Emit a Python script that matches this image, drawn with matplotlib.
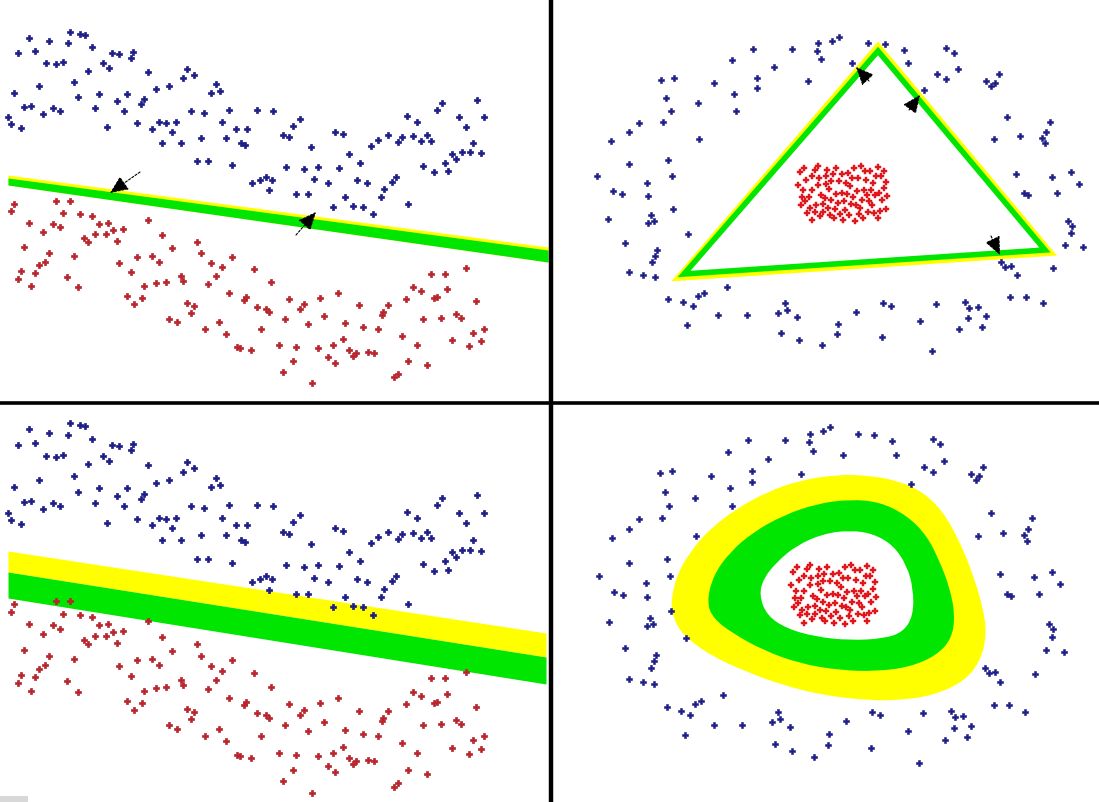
import numpy as np
import matplotlib
matplotlib.use("Agg")
import matplotlib.pyplot as plt
from matplotlib.path import Path
from matplotlib.patches import PathPatch, Polygon, Rectangle
from matplotlib.lines import Line2D

# ---------------- data: linearly separable set (left column) ----------------
LEFT_BLUE = [
    (29, 38), (49, 41), (70, 32), (80, 34), (85, 35), (68, 43), (35, 51), (18, 53), (92, 47),
    (112, 53), (119, 54), (133, 52), (131, 58), (46, 63), (56, 64), (63, 62), (103, 63), (109, 68),
    (88, 71), (148, 72), (187, 69), (183, 78), (194, 75), (74, 82), (39, 86), (156, 89), (169, 86),
    (216, 84), (220, 91), (211, 93), (14, 93), (78, 97), (99, 94), (127, 94), (144, 99), (141, 104),
    (117, 101), (24, 107), (31, 106), (53, 108), (60, 111), (43, 114), (95, 108), (124, 111),
    (191, 111), (204, 113), (229, 110), (257, 110), (273, 111), (8, 117), (11, 124), (21, 128),
    (107, 127), (137, 123), (152, 129), (159, 122), (166, 123), (176, 122), (172, 132), (222, 122),
    (236, 129), (247, 129), (162, 143), (181, 143), (201, 138), (226, 138), (241, 143), (245, 145),
    (197, 161), (208, 161), (232, 165), (252, 183), (260, 180), (266, 177), (272, 180), (269, 190),
    (283, 135), (289, 137), (293, 126), (300, 119), (311, 147), (335, 132), (343, 134), (349, 154),
    (286, 167), (304, 169), (318, 167), (314, 179), (328, 183), (339, 168), (360, 163), (357, 180),
    (367, 183), (296, 194), (308, 194), (345, 197), (371, 146), (378, 140), (388, 135), (398, 142),
    (402, 137), (407, 116), (417, 122), (413, 136), (421, 141), (427, 135), (431, 141), (437, 110),
    (442, 103), (459, 117), (466, 127), (477, 100), (484, 117), (473, 143), (462, 152), (470, 152),
    (481, 153), (452, 154), (456, 159), (445, 163), (448, 171), (423, 166), (434, 172), (384, 189),
    (392, 182), (396, 177), (381, 197), (333, 207), (353, 206), (363, 207), (373, 214), (408, 204),
]
LEFT_RED = [
    (14, 204), (11, 211), (56, 201), (70, 201), (63, 213), (80, 214), (92, 216), (29, 223), (53, 224),
    (60, 227), (99, 224), (108, 223), (113, 230), (123, 229), (148, 220), (43, 232), (95, 234),
    (106, 234), (84, 238), (88, 242), (117, 241), (162, 235), (24, 247), (172, 248), (197, 242),
    (49, 253), (74, 256), (201, 253), (137, 257), (152, 256), (159, 262), (119, 263), (45, 262),
    (39, 265), (211, 263), (222, 267), (232, 257), (21, 271), (35, 273), (131, 272), (254, 269),
    (18, 279), (31, 286), (67, 277), (78, 287), (181, 276), (183, 281), (216, 276), (208, 284),
    (144, 286), (156, 283), (166, 282), (271, 282), (127, 296), (142, 298), (134, 304), (229, 293),
    (246, 297), (244, 300), (187, 303), (194, 306), (191, 313), (257, 307), (266, 309), (269, 312),
    (169, 319), (177, 322), (219, 322), (205, 329), (226, 334), (261, 329), (237, 347), (240, 348),
    (251, 350), (431, 274), (445, 274), (466, 268), (413, 287), (421, 291), (447, 289), (434, 298),
    (437, 297), (289, 299), (320, 298), (338, 293), (406, 299), (476, 301), (300, 309), (304, 304),
    (359, 305), (388, 305), (383, 312), (382, 315), (285, 319), (324, 316), (423, 319), (441, 318),
    (456, 314), (461, 318), (308, 324), (345, 323), (363, 327), (378, 329), (484, 329), (473, 333),
    (402, 336), (279, 345), (296, 347), (318, 348), (333, 345), (343, 339), (349, 350), (356, 353),
    (353, 356), (368, 352), (374, 353), (417, 345), (452, 340), (469, 346), (481, 341), (328, 357),
    (293, 361), (335, 363), (408, 361), (427, 365), (283, 372), (394, 377), (398, 374), (312, 383),
]
# hard-margin separator (thin band) and its support-vector arrows
LINE_X = [8, 548]
LINE_YELLOW_TOP = [175, 247]
LINE_GREEN_TOP = [178, 250]
LINE_GREEN_BOT = [185, 262]
LINE_ARROWS = [((140, 172), (110, 193)), ((296, 235), (316, 212))]

# soft-margin band (lower left), in panel pixel units
SOFT_X = [8, 546]
SOFT_YELLOW_TOP = [149, 231]
SOFT_MID = [170, 255]
SOFT_GREEN_BOT = [196, 282]

# ---------------- data: ring-shaped set (right column) ----------------
RIGHT_BLUE = [
    (661, 80), (674, 78), (666, 98), (671, 111), (663, 122), (639, 123), (629, 132), (611, 141),
    (698, 103), (699, 139), (714, 83), (732, 60), (734, 94), (736, 111), (753, 49), (757, 78),
    (757, 88), (774, 67), (792, 49), (808, 81), (818, 43), (817, 51), (821, 59), (629, 164),
    (668, 160), (672, 176), (597, 176), (647, 183), (613, 191), (622, 194), (648, 196),
    (832, 41), (839, 37), (868, 43), (885, 44), (852, 63), (904, 50), (908, 63), (924, 90),
    (946, 48), (954, 53), (958, 69), (937, 74), (946, 79), (986, 81), (991, 86), (995, 83),
    (999, 74), (1007, 117), (994, 139), (1020, 136), (1050, 122), (1046, 132), (1042, 138),
    (1045, 143), (1016, 174), (1052, 177), (1071, 172), (1079, 184), (1057, 193), (1024, 193),
    (1028, 195), (608, 219), (651, 215), (654, 221), (648, 223), (673, 209), (688, 234),
    (625, 243), (657, 250), (655, 256), (652, 262), (629, 272), (643, 275), (655, 277),
    (727, 287), (704, 293), (698, 296), (668, 299), (683, 302), (693, 306), (718, 315),
    (747, 315), (687, 325), (785, 303), (787, 310), (778, 313), (797, 317), (781, 333),
    (799, 340), (822, 345), (1068, 221), (1072, 226), (1071, 233), (1065, 245), (1083, 247),
    (1053, 268), (1001, 262), (1005, 267), (1011, 266), (1017, 275), (1010, 297), (1026, 297),
    (1043, 303), (883, 303), (891, 306), (936, 304), (965, 302), (969, 308), (978, 307),
    (986, 316), (856, 312), (838, 324), (837, 334), (882, 337), (920, 321), (968, 318),
    (959, 329), (982, 327), (932, 351),
]
RIGHT_RED = [
    (800, 172), (806, 180), (803, 190), (809, 197), (801, 205), (807, 213), (812, 220), (815, 170),
    (818, 185), (821, 195), (816, 205), (823, 212), (826, 176), (829, 189), (831, 200), (828, 208),
    (834, 218), (836, 168), (839, 181), (842, 193), (838, 203), (845, 210), (848, 173), (850, 186),
    (853, 197), (849, 215), (856, 205), (858, 178), (861, 166), (864, 190), (862, 200), (868, 212),
    (870, 171), (873, 183), (875, 195), (872, 205), (878, 218), (881, 176), (884, 188), (882, 200),
    (886, 209), (812, 176), (825, 198), (843, 220), (859, 214), (866, 180), (833, 174), (820, 216),
    (878, 167), (805, 201), (854, 168), (846, 183), (867, 195), (880, 211), (812, 190), (835, 209),
    (851, 204), (826, 184), (871, 190), (840, 214), (798, 185), (804, 168), (810, 208), (819, 178),
    (823, 204), (831, 181), (836, 194), (842, 174), (844, 201), (852, 178), (857, 191), (860, 208),
    (865, 171), (869, 201), (876, 176), (879, 193), (884, 171), (887, 196), (815, 212), (830, 215),
    (847, 194), (863, 218), (874, 213), (802, 197), (818, 166), (855, 221), (886, 182), (827, 170),
]
# triangular separator: green centre line and yellow outer margin
TRI_GREEN = [(878, 51), (684, 274), (1045, 250)]
TRI_YELLOW = [(878, 46), (678, 278), (1051, 253)]
TRI_ARROWS = [((869, 81), (856, 67)), ((909, 110), (920, 95)), ((991, 236), (1000, 255))]

# kernel decision regions (lower right), in panel pixel units
RING_YELLOW = [
    (120.7, 200), (126.7, 173.3), (140, 150), (160, 126.7), (186.7, 106.7), (216.7, 90),
    (250, 78.3), (286.7, 72.7), (316.7, 73.3), (346.7, 78.3), (373.3, 90), (393.3, 110),
    (410, 140), (423.3, 173.3), (433.3, 206.7), (436.7, 233.3), (430, 260), (413.3, 280),
    (383.3, 293.3), (350, 298.3), (316.7, 298.3), (273.3, 293.3), (233.3, 283.3),
    (196.7, 270), (160, 253.3), (133.3, 233.3), (123.3, 216.7),
]
RING_GREEN = [
    (156.7, 200), (163.3, 173.3), (180, 150), (203.3, 130), (233.3, 113.3), (266.7, 101.7),
    (300, 97.3), (330, 100), (356.7, 113.3), (376.7, 133.3), (390, 160), (400, 186.7),
    (405, 213.3), (401.7, 236.7), (386.7, 253.3), (360, 265), (326.7, 269.3), (290, 268.3),
    (250, 261.7), (213.3, 248.3), (183.3, 231.7), (163.3, 216.7),
]
RING_INNER = [
    (209.3, 193.3), (213.3, 176.7), (226.7, 160), (246.7, 143.3), (273.3, 131.7), (300, 128.3),
    (323.3, 131.7), (343.3, 143.3), (356.7, 163.3), (363.3, 186.7), (363.3, 213.3),
    (353.3, 230), (333.3, 236.7), (300, 238.3), (266.7, 235), (236.7, 226.7), (216.7, 213.3),
]

BLUE = "#1d1d88"
RED = "#b8242c"
RED_BRIGHT = "#e0161c"
YELLOW = "#ffff00"
GREEN = "#00e600"

W, H = 1099, 802
fig = plt.figure(figsize=(W / 100, H / 100), dpi=100, facecolor="white")


def px_axes(x0, y0, x1, y1, z=1):
    ax = fig.add_axes([x0 / W, 1 - y1 / H, (x1 - x0) / W, (y1 - y0) / H], zorder=z)
    ax.set_axis_off()
    ax.patch.set_alpha(0)
    return ax


def smooth_closed(pts):
    pts = np.asarray(pts, float)
    mids = (pts + np.roll(pts, -1, axis=0)) / 2
    verts, codes = [mids[-1]], [Path.MOVETO]
    for p, m in zip(pts, mids):
        verts += [p, m]
        codes += [Path.CURVE3, Path.CURVE3]
    return Path(verts, codes)


def scatter(ax, pts, color, s=24, marker="P", ew=0.5):
    a = np.asarray(pts, float)
    ax.scatter(a[:, 0], a[:, 1], s=s, c=color, marker=marker,
               edgecolors=color, linewidths=ew, zorder=5)


def arrows(ax, pairs):
    for tail, head in pairs:
        ax.annotate("", xy=head, xytext=tail, zorder=6,
                    arrowprops=dict(arrowstyle="-|>,head_length=0.8,head_width=0.35",
                                    color="black", lw=0.8,
                                    linestyle=(0, (2, 1.5)), mutation_scale=14,
                                    shrinkA=0, shrinkB=0))


# ---- top left: hard margin line ----
ax_tl = px_axes(0, 0, 548, 401)
ax_tl.set_xlim(0, 548)
ax_tl.set_ylim(401, 0)
ax_tl.fill_between(LINE_X, LINE_YELLOW_TOP, LINE_GREEN_BOT, color=YELLOW, lw=0, zorder=1)
ax_tl.fill_between(LINE_X, LINE_GREEN_TOP, LINE_GREEN_BOT, color=GREEN, lw=0, zorder=2)
scatter(ax_tl, LEFT_BLUE, BLUE)
scatter(ax_tl, LEFT_RED, RED)
arrows(ax_tl, LINE_ARROWS)

# ---- bottom left: soft margin band ----
bg_bl = px_axes(0, 404, 548, 802, z=0)
bg_bl.set_xlim(0, 548)
bg_bl.set_ylim(400, 2)
bg_bl.fill_between(SOFT_X, SOFT_YELLOW_TOP, SOFT_MID, color=YELLOW, lw=0)
bg_bl.fill_between(SOFT_X, SOFT_MID, SOFT_GREEN_BOT, color=GREEN, lw=0)
ax_bl = px_axes(0, 404, 548, 802)
ax_bl.set_xlim(0, 548)
ax_bl.set_ylim(391.6, 13.9)
scatter(ax_bl, LEFT_BLUE, BLUE)
scatter(ax_bl, LEFT_RED, RED)

# ---- top right: triangle boundary ----
ax_tr = px_axes(553, 0, 1099, 401)
ax_tr.set_xlim(553, 1099)
ax_tr.set_ylim(401, 0)
ax_tr.add_patch(Polygon(TRI_YELLOW, closed=True, fill=False, ec=YELLOW, lw=4.2, joinstyle="miter", zorder=1))
ax_tr.add_patch(Polygon(TRI_GREEN, closed=True, fill=False, ec=GREEN, lw=4.0, joinstyle="miter", zorder=2))
scatter(ax_tr, RIGHT_BLUE, BLUE, s=20, ew=0.4)
scatter(ax_tr, RIGHT_RED, RED_BRIGHT, s=18, ew=0.3)
arrows(ax_tr, TRI_ARROWS)

# ---- bottom right: kernel rings ----
bg_br = px_axes(553, 404, 1099, 802, z=0)
bg_br.set_xlim(3, 549)
bg_br.set_ylim(400, 2)
bg_br.add_patch(PathPatch(smooth_closed(RING_YELLOW), fc=YELLOW, ec="none"))
bg_br.add_patch(PathPatch(smooth_closed(RING_GREEN), fc=GREEN, ec="none"))
bg_br.add_patch(PathPatch(smooth_closed(RING_INNER), fc="white", ec="none"))
ax_br = px_axes(553, 404, 1099, 802)
ax_br.set_xlim(549.3, 1120.0)
ax_br.set_ylim(387.4, 15.4)
scatter(ax_br, RIGHT_BLUE, BLUE, s=20, ew=0.4)
scatter(ax_br, RIGHT_RED, RED_BRIGHT, s=18, ew=0.3)

# ---- dividing lines ----
fig.add_artist(Line2D([550.5 / W] * 2, [0, 1], color="black", lw=3.2, zorder=10))
fig.add_artist(Line2D([0, 1], [1 - 402.5 / H] * 2, color="black", lw=2.6, zorder=10))
fig.add_artist(Rectangle((0, 0), 28 / W, 6 / H, transform=fig.transFigure,
                         fc="#d8d8d8", ec="none", zorder=10))

fig.savefig("out.png", dpi=100, facecolor="white")
